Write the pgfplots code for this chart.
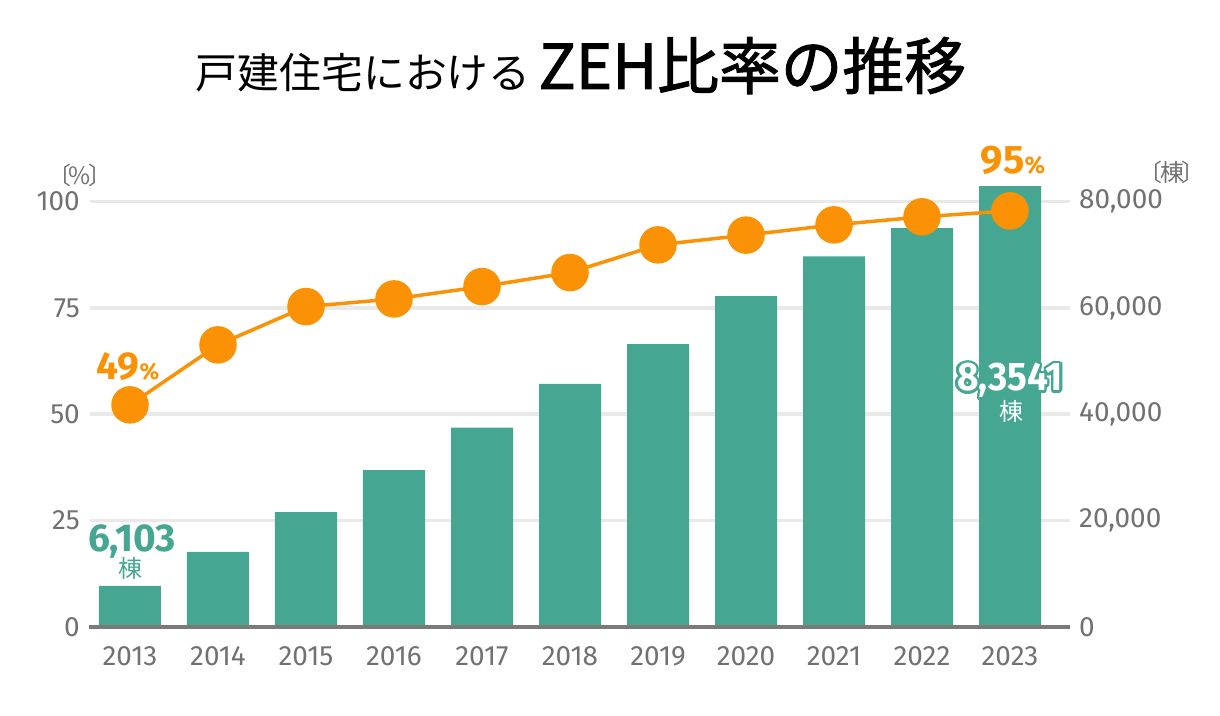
\documentclass[border=0pt]{standalone}
\usepackage{pgfplots}
\pgfplotsset{compat=1.18}
\usetikzlibrary{calc}
\usepackage{graphicx}
\usepackage{fontspec}
\setmainfont{Fira Sans}[Numbers={Proportional,Lining}]
\newfontfamily\cjk{Noto Sans CJK JP}
\newfontfamily\cjkm[FakeBold=1.6]{Noto Sans CJK JP}
\newfontfamily\numb{Fira Sans}[Numbers={Proportional,Lining}]
\definecolor{zteal}{HTML}{45A792}
\definecolor{zorange}{HTML}{FB9205}
\definecolor{tickgray}{HTML}{717171}
\definecolor{gridc}{HTML}{E9E9E9}
\definecolor{axgray}{HTML}{7A7A7A}
\begin{document}
\begin{tikzpicture}[x=1bp,y=1bp]
\useasboundingbox (0,0) rectangle (1220,716);
% bars (right axis)
\begin{axis}[
  at={(90bp,89bp)}, anchor=south west, scale only axis,
  width=980bp, height=425.5bp,
  xmin=-0.4545, xmax=10.682, ymin=0, ymax=80000,
  clip=false, scaled y ticks=false,
  axis line style={draw=none},
  major tick length=0pt,
  ytick={0,20000,40000,60000,80000},
  yticklabels={0,{20,000},{40,000},{60,000},{80,000}},
  ytick pos=right, yticklabel pos=right,
  xtick={0,1,2,3,4,5,6,7,8,9,10},
  xticklabels={2013,2014,2015,2016,2017,2018,2019,2020,2021,2022,2023},
  ymajorgrids,
  grid style={line width=3.5bp, color=gridc},
  ticklabel style={font=\numb\fontsize{28}{28}\selectfont, text=tickgray, inner sep=0pt},
  yticklabel style={anchor=west, xshift=9bp},
  xticklabel style={anchor=north, yshift=-19bp},
]
\addplot[ybar, bar width=62bp, fill=zteal, draw=none] coordinates {
 (0,7710) (1,14100) (2,21600) (3,29500) (4,37500) (5,45700)
 (6,53200) (7,62200) (8,69700) (9,75000) (10,82900)};
\draw[axgray, line width=4bp] (axis cs:-0.466,0) -- (axis cs:10.682,0);
\end{axis}
% line (left axis)
\begin{axis}[
  at={(90bp,89bp)}, anchor=south west, scale only axis,
  width=980bp, height=425.5bp,
  xmin=-0.4545, xmax=10.682, ymin=0, ymax=100,
  clip=false,
  axis line style={draw=none},
  major tick length=0pt,
  xtick=\empty,
  ytick={0,25,50,75,100},
  yticklabels={0,25,50,75,100},
  ytick pos=left, yticklabel pos=left,
  ticklabel style={font=\numb\fontsize{28}{28}\selectfont, text=tickgray, inner sep=0pt},
  yticklabel style={anchor=east, xshift=-10bp},
]
\addplot[zorange, line width=3.5bp, mark=*, mark size=17bp,
  mark options={fill=zorange, draw=none}] coordinates {
 (0,52.2) (1,66.3) (2,75.3) (3,77.1) (4,80.0) (5,83.3)
 (6,89.8) (7,92.1) (8,94.5) (9,96.4) (10,97.8)};
\end{axis}
% title
\node[anchor=base, inner sep=0pt] at (581,627)
  {{\fontsize{42}{42}\selectfont\cjk 戸建住宅における}\hspace{8bp}{\fontsize{62}{62}\selectfont\cjkm ZEH比率の推移}};
% axis unit labels
\node[text=tickgray, inner sep=0pt] at (80,541) {\fontsize{24}{24}\selectfont\cjk 〔\kern-0.1em\%\kern-0.1em〕};
\node[text=tickgray, inner sep=0pt] at (1172,544) {\fontsize{24}{24}\selectfont\cjk 〔\kern-0.1em 棟\kern-0.1em〕};
% value annotations
\node[anchor=base, text=zorange, inner sep=0pt] at (128,336)
  {\numb\bfseries\fontsize{39}{39}\selectfont 49\fontsize{23}{23}\selectfont\%};
\node[anchor=base, text=zorange, inner sep=0pt] at (1013,542)
  {\numb\bfseries\fontsize{40}{40}\selectfont 95\fontsize{24}{24}\selectfont\%};
\node[anchor=base, text=zteal, inner sep=0pt] at (132,164)
  {\numb\bfseries\fontsize{39}{39}\selectfont 6,103};
\node[text=zteal, inner sep=0pt] at (130,148) {\cjk\fontsize{24}{24}\selectfont 棟};
\foreach \a in {0,22.5,...,337.5}{
  \node[anchor=base, text=zteal, inner sep=0pt] at ($(1010,325)+(\a:2.6)$)
    {\scalebox{0.93}[1]{\numb\bfseries\fontsize{40}{40}\selectfont 8,3541}};
}
\node[anchor=base, text=white, inner sep=0pt] at (1010,325)
  {\scalebox{0.93}[1]{\numb\bfseries\fontsize{40}{40}\selectfont 8,3541}};
\node[text=white, inner sep=0pt] at (1011,305) {\cjk\fontsize{24}{24}\selectfont 棟};
\end{tikzpicture}
\end{document}
